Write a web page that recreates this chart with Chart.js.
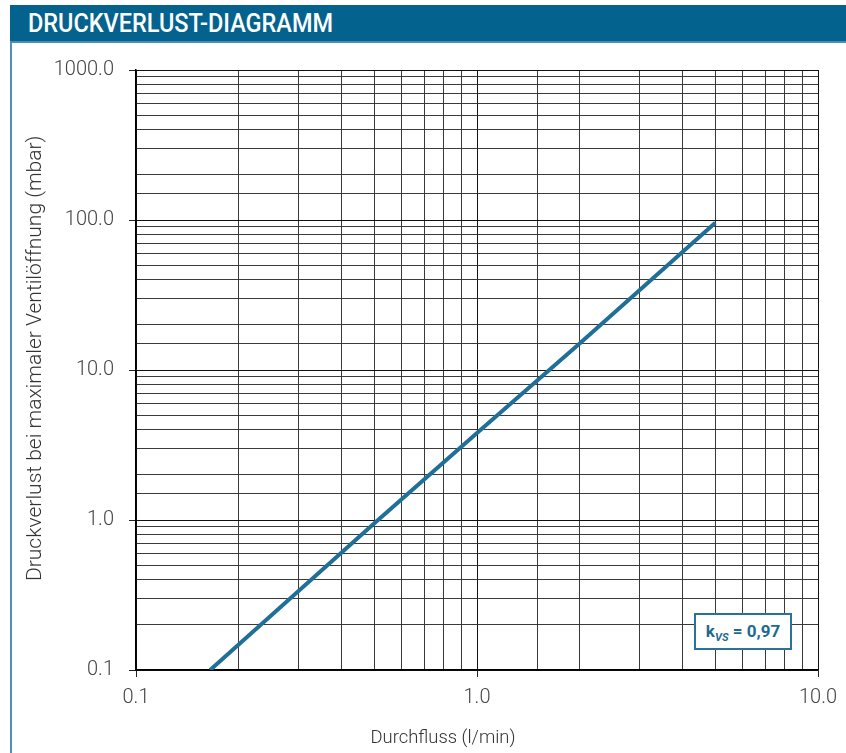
<!DOCTYPE html>
<html>
<head>
<meta charset="utf-8">
<script src="https://cdn.jsdelivr.net/npm/chart.js@4/dist/chart.umd.min.js"></script>
<style>
  html, body { margin: 0; padding: 0; background: #fff; }
  body { width: 846px; height: 753px; position: relative; overflow: hidden; font-family: Roboto, "Noto Sans", sans-serif; }
  #header { position: absolute; left: 10px; top: 5px; width: 836px; height: 36px; background: #03638e; border-bottom: 2px solid #4b8db2; }
  #header span { position: absolute; left: 18px; top: 4px; color: #fff; font-size: 26px; font-weight: 500; line-height: 28px; transform-origin: 0 50%; white-space: nowrap; }
  #leftline { position: absolute; left: 10px; top: 43px; width: 2px; height: 710px; background: #4f8fb8; }
  #wrap { position: absolute; left: 0; top: 0; width: 846px; height: 753px; }
  .axtitle { position: absolute; color: #333; font-weight: 300; white-space: nowrap; line-height: 20px; }
  #xtitle { left: 443px; top: 737px; font-size: 18.4px; transform: translate(-50%, -50%); }
  #ytitle { left: 24px; top: 581px; font-size: 21px; transform-origin: 0 0; transform: rotate(-90deg); }
  #kvs { position: absolute; left: 694px; top: 613px; width: 94px; height: 33px; border: 2px solid #2a7297; background: #fff;
         color: #1d6a90; font-weight: 700; font-size: 17px; line-height: 33px; text-align: center; white-space: nowrap; }
  #kvs sub { font-size: 11px; font-style: italic; vertical-align: -4px; line-height: 0; }
</style>
</head>
<body>
<div id="wrap"><canvas id="lossChart" width="846" height="753"></canvas></div>
<div id="header"><span id="htext">DRUCKVERLUST-DIAGRAMM</span></div>
<div id="leftline"></div>
<div class="axtitle" id="xtitle">Durchfluss (l/min)</div>
<div class="axtitle" id="ytitle">Druckverlust bei maximaler Ventilöffnung (mbar)</div>
<div id="kvs">k<sub>VS</sub> = 0,97</div>
<script>
// flow (l/min) vs pressure loss (mbar)
const flow = [0.165, 0.5, 1.0, 2.0, 5.0];
const pressureLoss = [0.1, 0.95, 3.8, 15, 96];
const xRange = [0.1, 10];
const yRange = [0.1, 1000];

function isDecade(v) {
  const l = Math.log10(v);
  return Math.abs(l - Math.round(l)) < 1e-6;
}

const gridColor = (ctx) => (ctx.tick && isDecade(ctx.tick.value)) ? "#111" : "#3a3a3a";
const tickMarkColor = (ctx) => (ctx.tick && isDecade(ctx.tick.value)) ? "#222" : "rgba(0,0,0,0)";
const tickFont = { family: "Roboto", size: 20, weight: "300" };

const chart = new Chart(document.getElementById("lossChart"), {
  type: "line",
  data: {
    datasets: [{
      data: flow.map((q, i) => ({ x: q, y: pressureLoss[i] })),
      borderColor: "#1f6f98",
      borderWidth: 4,
      pointRadius: 0,
      tension: 0,
    }],
  },
  options: {
    responsive: false,
    animation: false,
    events: [],
    layout: { padding: { left: 10, top: 70, right: 28, bottom: 0 } },
    plugins: { legend: { display: false }, tooltip: { enabled: false } },
    scales: {
      x: {
        type: "logarithmic",
        min: xRange[0],
        max: xRange[1],
        grid: { color: gridColor, tickColor: tickMarkColor, tickLength: 7, lineWidth: 1 },
        border: { color: "#000", width: 1.5 },
        ticks: {
          autoSkip: false, maxRotation: 0, padding: 9, color: "#444", font: tickFont,
          callback: (v) => isDecade(v) ? Number(v).toFixed(1) : "",
        },
        afterFit: (s) => { s.height = 83; s.paddingLeft = 0; s.paddingRight = 0; },
      },
      y: {
        type: "logarithmic",
        min: yRange[0],
        max: yRange[1],
        grid: { color: gridColor, tickColor: tickMarkColor, tickLength: 7, lineWidth: 1 },
        border: { color: "#000", width: 1.5 },
        ticks: {
          autoSkip: false, padding: 15, color: "#444", font: tickFont,
          callback: (v) => isDecade(v) ? Number(v).toFixed(1) : "",
        },
        afterFit: (s) => { s.width = 126; s.paddingTop = 0; s.paddingBottom = 0; },
      },
    },
  },
});

// squeeze header text to the condensed width of the original
const ht = document.getElementById("htext");
const w = ht.getBoundingClientRect().width;
ht.style.transform = "scaleX(" + (305 / w) + ")";
</script>
</body>
</html>
